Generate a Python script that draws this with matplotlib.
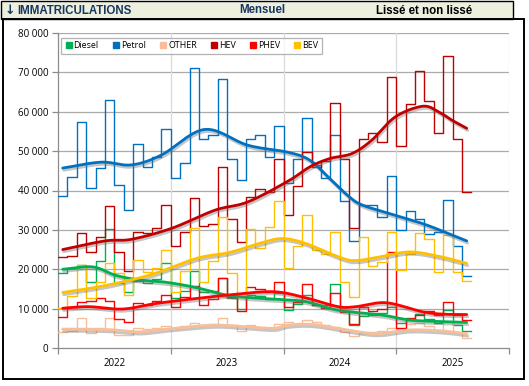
import numpy as np
import matplotlib
matplotlib.use("Agg")
import matplotlib.pyplot as plt
import matplotlib.patheffects as pe
from matplotlib.patches import Rectangle
from matplotlib.transforms import Affine2D

# ---------------- data (thousands of registrations, monthly Jan 2022 .. Aug 2025)
start_year = 2022
n_months = 44
years = ["2022", "2023", "2024", "2025"]
series_names = ["Diesel", "Petrol", "OTHER", "HEV", "PHEV", "BEV"]
colors = ["#00B050", "#0070C0", "#F7BE9A", "#C00000", "#FF0000", "#FFC000"]

diesel = [19.0, 20.4, 21.0, 16.8, 22.2, 30.1, 16.5, 14.1, 17.0, 16.6, 17.5, 21.5,
          12.6, 14.5, 19.6, 14.2, 14.5, 17.7, 12.6, 9.8, 13.5, 13.2, 12.4, 14.0,
          9.6, 11.3, 13.5, 10.9, 10.9, 16.2, 9.4, 5.8, 8.2, 8.5, 8.8, 10.3,
          6.4, 7.2, 8.7, 7.4, 6.4, 9.6, 5.8, 4.3]
petrol = [38.6, 43.5, 57.3, 40.6, 45.7, 62.9, 41.3, 35.0, 51.9, 45.9, 48.4, 55.5,
          43.2, 46.9, 71.2, 53.2, 54.1, 68.2, 48.1, 42.6, 53.0, 54.0, 48.6, 56.5,
          41.8, 47.9, 58.5, 46.4, 43.1, 54.2, 37.3, 27.1, 36.2, 36.2, 33.2, 43.6,
          30.0, 34.9, 32.7, 28.9, 29.5, 37.5, 26.0, 18.2]
other = [4.1, 4.3, 7.5, 3.9, 5.0, 7.5, 3.3, 3.3, 5.0, 4.8, 5.0, 5.5,
         5.0, 5.5, 6.3, 5.8, 6.1, 7.5, 5.8, 4.3, 5.8, 5.4, 5.2, 6.0,
         6.5, 6.0, 7.1, 6.7, 5.8, 5.4, 4.1, 3.0, 3.7, 4.0, 4.3, 5.0,
         4.8, 6.0, 6.3, 5.5, 4.6, 6.7, 4.1, 2.5]
hev = [23.0, 23.4, 29.3, 24.3, 28.1, 36.0, 24.4, 19.5, 29.4, 29.1, 30.5, 36.2,
       25.9, 29.4, 38.2, 31.0, 31.5, 45.9, 32.7, 27.0, 38.4, 40.3, 39.7, 48.0,
       33.9, 41.1, 49.7, 46.0, 47.5, 62.1, 48.0, 30.4, 53.0, 54.5, 52.2, 68.7,
       51.2, 61.9, 70.4, 62.8, 54.6, 74.1, 53.0, 39.5]
phev = [8.0, 10.3, 11.6, 12.0, 12.8, 11.9, 7.3, 6.7, 11.5, 10.8, 12.0, 13.5,
        10.5, 13.0, 15.7, 10.9, 12.5, 17.7, 13.0, 9.4, 15.6, 15.0, 14.3, 16.8,
        10.5, 11.8, 16.2, 10.9, 10.1, 13.9, 9.2, 6.0, 10.5, 9.5, 10.0, 24.4,
        5.0, 7.5, 8.5, 9.4, 8.4, 11.6, 8.5, 7.1]
bev = [10.1, 13.3, 21.1, 12.7, 16.7, 21.7, 19.0, 13.4, 22.3, 19.4, 20.2, 24.9,
       14.3, 19.5, 30.4, 16.8, 22.0, 33.2, 19.0, 13.0, 30.1, 25.3, 30.8, 37.3,
       20.2, 26.0, 33.9, 25.0, 24.0, 29.5, 16.8, 13.0, 28.1, 20.8, 21.9, 29.4,
       19.8, 24.0, 29.1, 27.8, 19.3, 28.7, 19.4, 17.0]

# smoothed ("lissé") series, read at month positions
diesel_s_m = [0.5, 3.7, 6.1, 8.6, 11.5, 14.8, 18.3, 22.9, 26.3, 29.8, 34.4, 37.5, 41, 43.5]
diesel_s_v = [20.0, 20.6, 18.5, 17.3, 16.7, 15.3, 13.3, 12.4, 11.8, 9.6, 8.4, 7.1, 6.7, 6.5]
petrol_s_m = [0.5, 4.6, 7.8, 11, 15.6, 20.2, 24.5, 26.8, 28.9, 31, 32.4, 35.2, 38.8, 41.3, 43.5]
petrol_s_v = [45.7, 47.2, 46.5, 49.0, 55.5, 51.5, 49.7, 47.7, 43.1, 38.4, 36.3, 34.2, 31.6, 29.3, 27.2]
other_s_m = [0.5, 5.1, 8.6, 11.5, 16.5, 20, 22.9, 24.5, 26.9, 29.8, 32.6, 34.4, 37.5, 41, 43.5]
other_s_v = [4.8, 4.7, 4.1, 4.8, 5.8, 5.4, 5.0, 5.8, 6.0, 5.0, 3.9, 3.7, 4.6, 4.3, 3.6]
hev_s_m = [0.5, 5, 7.8, 12.1, 16.7, 20.2, 24.5, 26.8, 28.9, 31.3, 33.4, 35.9, 38.8, 40.5, 41.9, 43.5]
hev_s_v = [25.0, 27.2, 27.6, 30.4, 35.0, 37.1, 42.4, 46.0, 48.1, 49.4, 52.8, 58.7, 61.4, 60.0, 57.9, 55.8]
phev_s_m = [0.5, 3.3, 6.9, 10.4, 14.8, 18.3, 22.9, 26.3, 29.8, 31.7, 34.9, 38.8, 41, 43.5]
phev_s_v = [10.1, 10.5, 9.9, 11.3, 12.6, 13.5, 14.3, 12.8, 10.5, 10.5, 11.5, 9.2, 8.6, 8.5]
bev_s_m = [0.5, 3.3, 6.9, 10.4, 14.8, 18.3, 21.5, 23.8, 26.3, 29.8, 31.6, 34.4, 37.4, 40.5, 43.5]
bev_s_v = [14.1, 15.1, 16.8, 19.0, 22.8, 24.3, 26.6, 27.8, 26.6, 23.2, 22.2, 23.2, 24.4, 23.3, 21.5]

raw = [diesel, petrol, other, hev, phev, bev]
smooth = [(diesel_s_m, diesel_s_v), (petrol_s_m, petrol_s_v), (other_s_m, other_s_v),
          (hev_s_m, hev_s_v), (phev_s_m, phev_s_v), (bev_s_m, bev_s_v)]


def catmull_rom(xs, ys, n=20):
    p = np.column_stack([xs, ys]).astype(float)
    p = np.vstack([2 * p[0] - p[1], p, 2 * p[-1] - p[-2]])
    out = []
    t = np.linspace(0, 1, n, endpoint=False)[:, None]
    for i in range(1, len(p) - 2):
        p0, p1, p2, p3 = p[i - 1], p[i], p[i + 1], p[i + 2]
        seg = 0.5 * ((2 * p1) + (-p0 + p2) * t + (2 * p0 - 5 * p1 + 4 * p2 - p3) * t ** 2
                     + (-p0 + 3 * p1 - 3 * p2 + p3) * t ** 3)
        out.append(seg)
    out.append(p[-2][None, :])
    out = np.vstack(out)
    return out[:, 0], out[:, 1]


W, H = 529, 386
fig = plt.figure(figsize=(W / 100, H / 100), dpi=100)
fig.patch.set_facecolor("white")
px = Affine2D().scale(1 / W, -1 / H).translate(0, 1) + fig.transFigure

# header band
fig.patches.append(Rectangle((1, 1), 512, 18, transform=px, facecolor="#EDEFDF",
                             edgecolor="black", lw=1.0, zorder=0))
# chart frame
fig.patches.append(Rectangle((3, 19), 521, 360, transform=px, facecolor="none",
                             edgecolor="black", lw=1.4, zorder=5))

fig.text(5 / W, 1 - 10.5 / H, "\u2193", fontsize=9, fontweight="bold",
         color="#17375E", family="DejaVu Sans", va="center", ha="left")
fig.text(17 / W, 1 - 10.5 / H, "IMMATRICULATIONS", fontsize=8.3, fontweight="bold",
         color="#17375E", family="Liberation Sans", va="center", ha="left")
fig.text(262 / W, 1 - 10 / H, "Mensuel", fontsize=8.3, fontweight="bold",
         color="#17375E", family="Liberation Sans", va="center", ha="center")
fig.text(376 / W, 1 - 10.5 / H, "Lissé et non lissé", fontsize=8.3, fontweight="bold",
         color="black", family="Liberation Sans", va="center", ha="left")

ax = fig.add_axes([58 / W, (H - 348) / H, (509 - 58) / W, (348 - 33) / H], zorder=2)
ax.patch.set_alpha(0)
ax.set_xlim(0, 48)
ax.set_ylim(0, 80)

x_edges = np.arange(n_months + 1)
for vals, col in zip(raw, colors):
    ax.step(x_edges, list(vals) + [vals[-1]], where="post", color=col, lw=1.0, zorder=3)

shadow = [pe.SimpleLineShadow(offset=(0.7, -1.6), shadow_color="#6E6E6E", alpha=0.4),
          pe.Normal()]
for (sm, sv), col in zip(smooth, colors):
    xs, ys = catmull_rom(sm, sv)
    ax.plot(xs, ys, color=col, lw=2.0, solid_capstyle="round", zorder=4,
            path_effects=shadow)

# grid
for v in range(10, 81, 10):
    ax.axhline(v, color="#ABABAB", lw=0.9, zorder=1)
for xv in [12, 24, 36, 48]:
    ax.axvline(xv, color="#D9D9D9", lw=0.9, zorder=1)

for s in ["top", "right"]:
    ax.spines[s].set_visible(False)
for s in ["left", "bottom"]:
    ax.spines[s].set_color("#8C8C8C")
    ax.spines[s].set_linewidth(0.9)

ax.set_yticks(range(0, 81, 10))
ax.set_yticklabels(["0" if v == 0 else f"{v} 000" for v in range(0, 81, 10)])
ax.set_xticks([0, 12, 24, 36, 48])
ax.set_xticklabels([])
ax.set_xticks([6, 18, 30, 42], minor=True)
ax.set_xticklabels(years, minor=True)
ax.tick_params(axis="x", which="minor", length=0, pad=7)
ax.tick_params(axis="x", which="major", length=4, color="#8C8C8C", width=0.9)
ax.tick_params(axis="y", length=4, color="#8C8C8C", width=0.9, pad=3)
for lab in ax.get_yticklabels() + ax.get_xticklabels(minor=True):
    lab.set_fontsize(7.0)
    lab.set_family(["Open Sans", "DejaVu Sans"])
    lab.set_color("black")

handles = [plt.Line2D([], [], marker="s", ls="none", color=c, markersize=4.5) for c in colors]
leg = ax.legend(handles, series_names, loc="upper left", bbox_to_anchor=(0.002, 0.99),
                ncol=6, frameon=True, fancybox=False, edgecolor="#A0A0A0",
                prop={"family": "Open Sans", "size": 6.4}, handletextpad=0.05,
                columnspacing=1.45, borderpad=0.4, handlelength=1.0, borderaxespad=0.2)
leg.get_frame().set_linewidth(0.9)
leg.set_zorder(6)

fig.savefig("out.png", dpi=100, facecolor="white")
